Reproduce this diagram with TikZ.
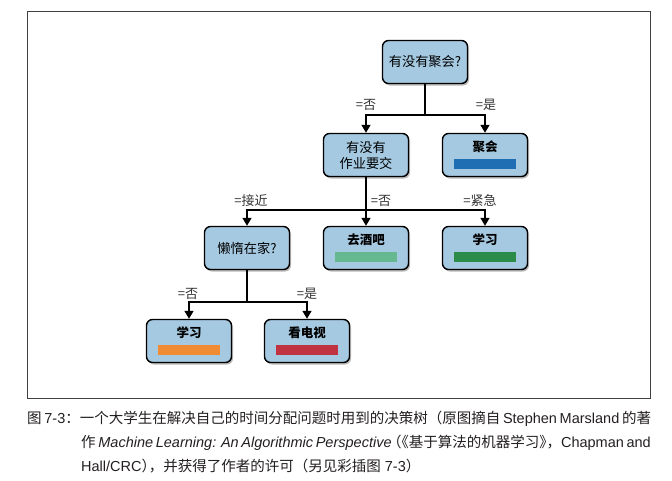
\documentclass[tikz,border=0pt]{standalone}
\usepackage{fontspec}
\setmainfont{Liberation Sans}
\newfontfamily\cjk{Noto Sans CJK SC}
\newfontfamily\cjkhalf{Noto Sans CJK SC}[RawFeature=+halt]
\usetikzlibrary{arrows.meta,shadows}
\definecolor{boxblue}{HTML}{A5C9E1}
\definecolor{barblue}{HTML}{1F6DB3}
\definecolor{barmint}{HTML}{66B891}
\definecolor{bargreen}{HTML}{2A8C48}
\definecolor{barorange}{HTML}{F08A33}
\definecolor{barred}{HTML}{C0323F}
\definecolor{captext}{HTML}{231F20}
\XeTeXlinebreaklocale "zh"
\XeTeXlinebreakskip=0pt plus 10pt

\begin{document}
\begin{tikzpicture}[x=1pt, y=-1pt,
  treebox/.style={draw, line width=1.4pt, rounded corners=6pt, fill=boxblue,
    minimum width=85pt, minimum height=43pt, align=center, inner sep=2pt,
    drop shadow={shadow xshift=1.5pt, shadow yshift=-2pt, fill=black!55}},
  question/.style={treebox, font=\cjk\fontsize{13.2}{16}\selectfont},
  leaf/.style={treebox, font=\cjk\bfseries\fontsize{12.5}{15}\selectfont},
  branch/.style={line width=1.4pt},
  arrowline/.style={branch, -{Triangle[width=9pt,length=8pt]}},
  edgelabel/.style={font=\cjk\fontsize{13}{15}\selectfont, text=black!80, inner sep=1pt},
  caption/.style={font=\fontsize{14.5}{17}\selectfont, text=captext, inner sep=0pt, anchor=west}]
\useasboundingbox (0,0) rectangle (672,480);
\draw[black!75, line width=0.8pt] (27,11) rectangle (650,398);

% decision nodes
\node[question] (party) at (425,62) {有没有聚会?};
\node[question] (homework) at (366,155) {有没有\\作业要交};
\node[question] (lazy) at (247,248) {懒惰在家?};

% leaves
\node[leaf] (goparty) at (485,155) {聚会\\[2pt]\textcolor{barblue}{\rule{62pt}{10pt}}};
\node[leaf] (pub) at (366,248) {去酒吧\\[2pt]\textcolor{barmint}{\rule{62pt}{10pt}}};
\node[leaf] (study) at (485,248) {学习\\[2pt]\textcolor{bargreen}{\rule{62pt}{10pt}}};
\node[leaf] (study2) at (189,341) {学习\\[2pt]\textcolor{barorange}{\rule{62pt}{10pt}}};
\node[leaf] (tv) at (307,341) {看电视\\[2pt]\textcolor{barred}{\rule{62pt}{10pt}}};

% branch points
\coordinate (fork1) at (425,115);
\coordinate (fork2) at (366,210);
\coordinate (fork3) at (247,302);

\draw[branch] (party) -- (fork1);
\draw[arrowline] (fork1) -| (homework);
\draw[arrowline] (fork1) -| (goparty);
\draw[arrowline] (homework) -- (pub);
\draw[arrowline] (fork2) -| (lazy);
\draw[arrowline] (fork2) -| (study);
\draw[branch] (lazy) -- (fork3);
\draw[arrowline] (fork3) -| (study2);
\draw[arrowline] (fork3) -| (tv);

% branch labels
\node[edgelabel] (no1) at (366,105) {=否};
\node[edgelabel] (yes1) at (486,105) {=是};
\node[edgelabel] (near) at (251,201) {=接近};
\node[edgelabel] (no2) at (381,201) {=否};
\node[edgelabel] (urgent) at (480,201) {=紧急};
\node[edgelabel] (no3) at (188,294) {=否};
\node[edgelabel] (yes3) at (307,294) {=是};

% caption
\node[caption] (cap1) at (27,419) {\makebox[622pt][s]{{\cjk 图} 7-3{\cjk ：一个大学生在解决自己的时间分配问题时用到的决策树（原图摘自} Stephen Marsland {\cjk 的著}}};
\node[caption] (cap2) at (81,443) {\makebox[568pt][s]{{\cjk 作} \textit{Machine Learning: An Algorithmic Perspective} {\cjkhalf （《}{\cjk 基于算法的机器学习}{\cjkhalf 》}{\cjk ，}Chapman and}};
\node[caption] (cap3) at (81,466) {Hall/CRC{\cjkhalf ）}{\cjk ，并获得了作者的许可（另见彩插图} 7-3{\cjkhalf ）}};
\end{tikzpicture}
\end{document}
